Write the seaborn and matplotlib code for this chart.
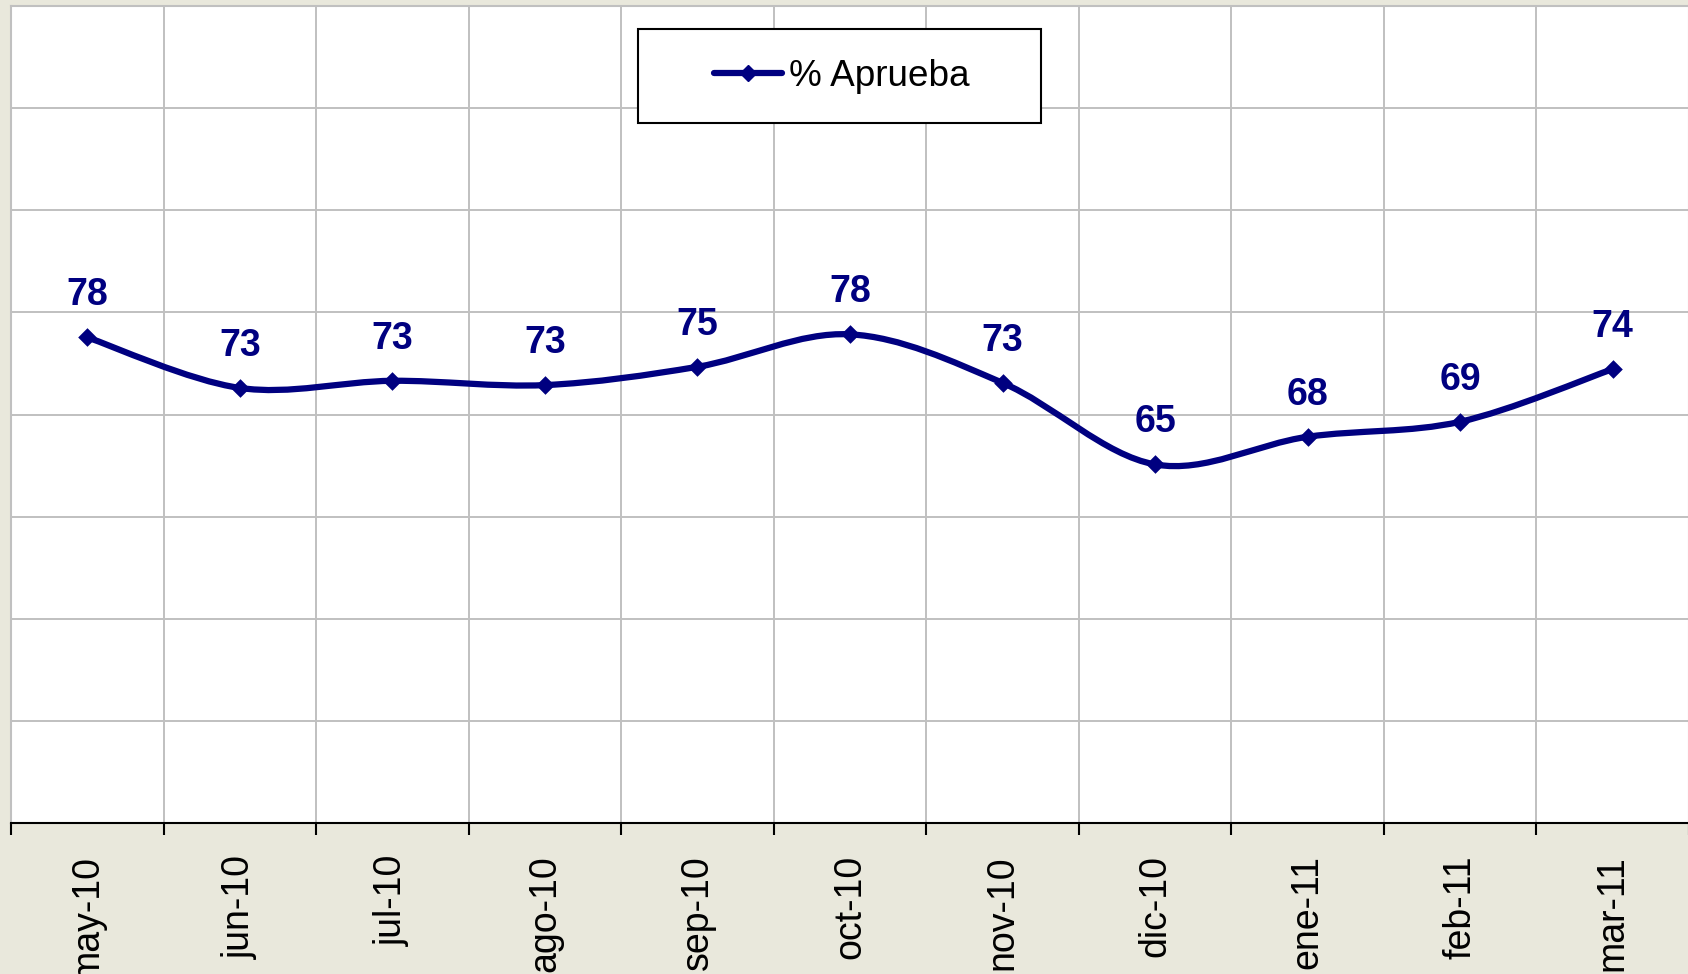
import numpy as np
import matplotlib
matplotlib.use("Agg")
import matplotlib.pyplot as plt
import seaborn as sns
from matplotlib.path import Path
from matplotlib.patches import PathPatch, Rectangle
from matplotlib.lines import Line2D

# data
months = ['may-10', 'jun-10', 'jul-10', 'ago-10', 'sep-10', 'oct-10',
          'nov-10', 'dic-10', 'ene-11', 'feb-11', 'mar-11']
aprueba = [77.55, 72.6, 73.3, 72.88, 74.67, 77.85, 73.1, 65.11, 67.82, 69.29, 74.45]
series_name = '% Aprueba'

NAVY = '#000080'
BG = '#E9E8DC'
GRID = '#C0C0C0'

sns.set_style('white')
plt.rcParams['font.family'] = ['Liberation Sans', 'DejaVu Sans']
plt.rcParams['text.color'] = 'black'

fig = plt.figure(figsize=(16.88, 9.74), dpi=100, facecolor=BG)
ax = fig.add_axes([11 / 1688, 1 - 823 / 974, 1678 / 1688, 817 / 974])
ax.set_facecolor('white')

x = np.arange(len(months))
y = np.array(aprueba)

# smoothed line (Excel style bezier through the points)
pts = np.column_stack([x, y])
n = len(pts)
verts = [pts[0]]
codes = [Path.MOVETO]
for i in range(n - 1):
    p0 = pts[max(i - 1, 0)]
    p1 = pts[i]
    p2 = pts[i + 1]
    p3 = pts[min(i + 2, n - 1)]
    verts += [p1 + (p2 - p0) / 6, p2 - (p3 - p1) / 6, p2]
    codes += [Path.CURVE4] * 3
ax.add_patch(PathPatch(Path(verts, codes), fill=False, edgecolor=NAVY,
                       lw=4.5, capstyle='round', joinstyle='round', zorder=3))

sns.scatterplot(x=x, y=y, marker='D', s=90, color=NAVY, edgecolor=NAVY,
                linewidth=0, zorder=4, ax=ax, legend=False)

for xi, v in zip(x, aprueba):
    ax.annotate(f'{v:.0f}', (xi, v), xytext=(0, 23), textcoords='offset points',
                ha='center', va='baseline', fontsize=27, fontweight='bold',
                color=NAVY, zorder=5)

ax.set_xlim(-0.5, len(months) - 0.5)
ax.set_ylim(30, 110)
ax.set_xticks(np.arange(-0.5, len(months) + 0.5, 1))
ax.set_xticklabels([])
ax.set_xticks(x, minor=True)
ax.set_xticklabels(months, minor=True, rotation=90, fontsize=27)
ax.set_yticks(np.arange(30, 111, 10))
ax.set_yticklabels([])
ax.tick_params(axis='x', which='major', direction='out', length=8.6, width=1.5,
               color='black', bottom=True)
ax.tick_params(axis='x', which='minor', length=0, pad=23, labelcolor='black')
ax.tick_params(axis='y', length=0)
ax.grid(True, which='major', color=GRID, lw=1.4, zorder=0)
ax.set_axisbelow(True)
for side in ['top', 'left', 'right']:
    ax.spines[side].set_color(GRID)
    ax.spines[side].set_linewidth(1.5)
ax.spines['bottom'].set_color('black')
ax.spines['bottom'].set_linewidth(1.5)
ax.set_xlabel('')
ax.set_ylabel('')

# legend box
ax.add_patch(Rectangle((638 / 1688, 1 - 123 / 974), 403 / 1688, 94 / 974,
                       transform=fig.transFigure, facecolor='white',
                       edgecolor='black', lw=1.5, clip_on=False, zorder=6))
handle = Line2D([], [], color=NAVY, lw=4.5, marker='D', markersize=8,
                solid_capstyle='round')
leg = ax.legend([handle], [series_name], loc='center', frameon=False,
                bbox_to_anchor=(842 / 1688, 1 - 76 / 974),
                bbox_transform=fig.transFigure, fontsize=26.6,
                handlelength=1.84, handletextpad=0.2, labelcolor='black')
leg.set_zorder(7)

fig.savefig('out.png', dpi=100, facecolor=BG)
